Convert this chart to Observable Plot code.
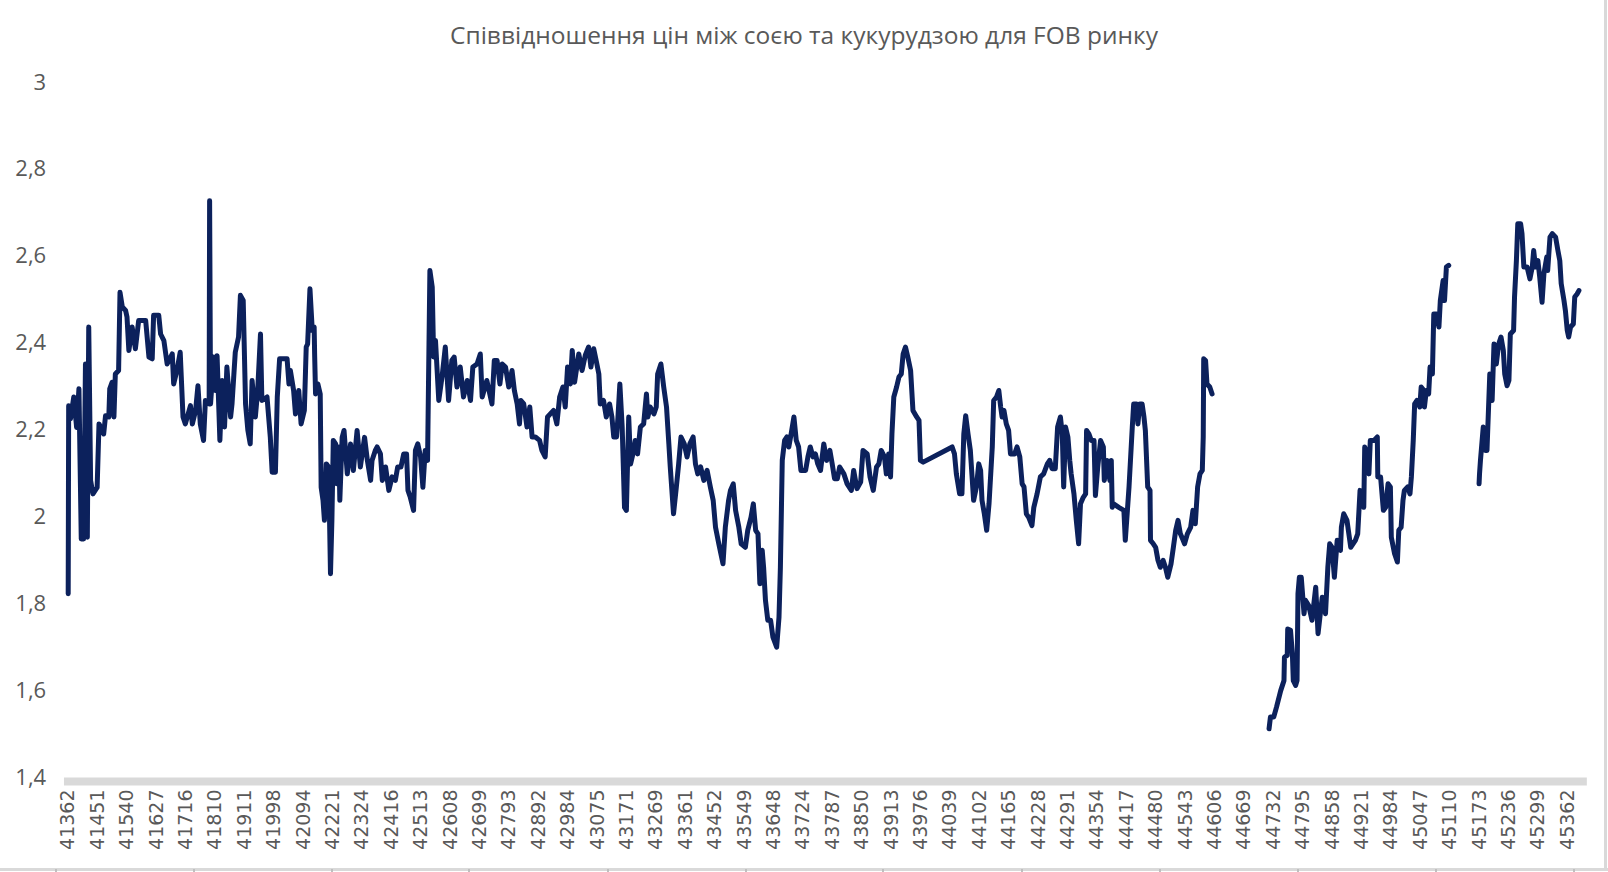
<!DOCTYPE html>
<html>
<head>
<meta charset="utf-8">
<script src="https://cdn.jsdelivr.net/npm/d3@7"></script>
<script src="https://cdn.jsdelivr.net/npm/@observablehq/plot@0.6"></script>
<style>
  html, body { margin: 0; padding: 0; background: #fff; }
  #wrap { position: relative; width: 1608px; height: 872px; overflow: hidden; background: #fff; }
  #title { position: absolute; left: 0; top: 19px; width: 1608px; text-align: center;
           font-family: "Open Sans", sans-serif; font-size: 24.5px; color: #595959; line-height: 32px; }
  #chart { position: absolute; left: 0; top: 60px; }
  #chart g[aria-label="y-axis tick label"] { font-family: "Open Sans", sans-serif; font-size: 22px; fill: #595959; }
  #chart g[aria-label="x-axis tick label"] { font-family: "DejaVu Sans", sans-serif; font-size: 19px; fill: #595959; }
  #frameBottom { position: absolute; left: 0; top: 868px; width: 1608px; height: 3px; background: #d9d9d9; }
  #frameRight { position: absolute; left: 1604px; top: 0; width: 3px; height: 871px; background: #d9d9d9; }
  .ftick { position: absolute; top: 869px; width: 2px; height: 3px; background: #bfbfbf; }
</style>
</head>
<body>
<div id="wrap">
  <div id="title">Співвідношення цін між соєю та кукурудзою для FOB ринку</div>
  <div id="chart"></div>
  <div id="frameBottom"></div>
  <div id="frameRight"></div>
</div>
<script>
// Category labels (Excel date serials), one label every 63 categories
const xLabels = [41362,41451,41540,41627,41716,41810,41911,41998,42094,42221,42324,42416,42513,42608,42699,42793,42892,42984,43075,43171,43269,43361,43452,43549,43648,43724,
  43787,43850,43913,43976,44039,44102,44165,44228,44291,44354,44417,44480,44543,44606,44669,44732,44795,44858,44921,44984,45047,45110,45173,45236,45299,45362];
const tickStep = 63;
const yTicks = [1.4, 1.6, 1.8, 2, 2.2, 2.4, 2.6, 2.8, 3];

// [category index, soy/corn price ratio]
const segment1 = [[0,1.823],[1,2.256],[5,2.226],[12,2.276],[18,2.206],[23,2.295],[28,1.949],[33,1.949],[37,2.352],[41,1.953],[44,2.437],[48,2.084],[53,2.053],[62,2.068],[66,2.214],[76,2.191],[80,2.233],[87,2.230],[89,2.295],[94,2.310],[98,2.230],[101,2.329],[108,2.337],[111,2.517],[116,2.483],[123,2.475],[126,2.460],[130,2.383],[137,2.437],[144,2.387],[151,2.452],[166,2.452],[173,2.368],[180,2.364],[183,2.464],[194,2.464],[198,2.421],[205,2.406],[212,2.352],[223,2.375],[226,2.306],[233,2.337],[240,2.379],[246,2.230],[251,2.214],[262,2.256],[266,2.214],[273,2.245],[278,2.302],[283,2.214],[290,2.176],[294,2.268],[302,2.260],[303,2.728],[305,2.260],[312,2.368],[315,2.291],[319,2.371],[325,2.176],[330,2.314],[335,2.207],[340,2.345],[348,2.230],[351,2.260],[358,2.379],[365,2.414],[369,2.510],[375,2.498],[380,2.260],[385,2.199],[390,2.168],[394,2.314],[401,2.230],[406,2.291],[412,2.421],[415,2.268],[426,2.276],[433,2.184],[437,2.103],[444,2.103],[448,2.276],[453,2.364],[469,2.364],[473,2.306],[476,2.337],[483,2.291],[487,2.237],[494,2.291],[499,2.214],[506,2.245],[510,2.391],[513,2.398],[518,2.525],[523,2.429],[527,2.437],[528,2.375],[530,2.283],[535,2.306],[540,2.283],[542,2.068],[546,2.038],[549,1.992],[553,2.122],[558,2.115],[562,1.869],[565,1.992],[568,2.176],[573,2.168],[576,2.076],[580,2.161],[582,2.038],[587,2.183],[591,2.199],[598,2.099],[605,2.168],[611,2.107],[619,2.199],[626,2.115],[635,2.183],[641,2.130],[648,2.084],[651,2.130],[658,2.153],[662,2.161],[669,2.145],[673,2.084],[680,2.115],[687,2.061],[694,2.092],[701,2.084],[706,2.115],[713,2.115],[719,2.145],[725,2.145],[728,2.061],[733,2.045],[740,2.015],[744,2.153],[749,2.168],[755,2.138],[760,2.068],[765,2.153],[770,2.130],[775,2.567],[780,2.529],[783,2.368],[787,2.406],[794,2.268],[801,2.322],[808,2.391],[815,2.268],[822,2.360],[827,2.368],[833,2.299],[840,2.345],[847,2.276],[855,2.314],[862,2.268],[867,2.345],[876,2.352],[883,2.375],[887,2.276],[897,2.314],[908,2.260],[913,2.360],[919,2.360],[925,2.306],[930,2.352],[937,2.345],[944,2.299],[951,2.337],[956,2.291],[962,2.260],[967,2.214],[970,2.268],[976,2.260],[983,2.207],[989,2.253],[994,2.184],[1001,2.184],[1010,2.176],[1015,2.153],[1022,2.138],[1027,2.230],[1033,2.237],[1040,2.245],[1047,2.214],[1053,2.276],[1060,2.299],[1065,2.253],[1070,2.345],[1076,2.306],[1080,2.383],[1085,2.310],[1094,2.375],[1101,2.337],[1108,2.372],[1115,2.391],[1120,2.345],[1126,2.387],[1132,2.356],[1137,2.329],[1140,2.260],[1147,2.268],[1153,2.230],[1160,2.260],[1165,2.230],[1169,2.184],[1175,2.184],[1178,2.230],[1182,2.306],[1187,2.207],[1192,2.022],[1196,2.015],[1201,2.230],[1205,2.122],[1210,2.145],[1215,2.176],[1220,2.145],[1226,2.207],[1233,2.214],[1239,2.283],[1242,2.230],[1247,2.253],[1255,2.237],[1260,2.253],[1263,2.329],[1270,2.352],[1276,2.299],[1282,2.253],[1287,2.168],[1290,2.115],[1297,2.007],[1303,2.068],[1308,2.122],[1313,2.184],[1320,2.168],[1326,2.138],[1332,2.168],[1339,2.184],[1344,2.122],[1349,2.099],[1355,2.115],[1362,2.084],[1369,2.107],[1376,2.068],[1382,2.038],[1387,1.976],[1394,1.938],[1403,1.892],[1408,1.976],[1415,2.038],[1419,2.061],[1425,2.076],[1430,2.015],[1437,1.976],[1442,1.938],[1451,1.930],[1456,1.969],[1463,1.999],[1468,2.030],[1473,1.969],[1478,1.961],[1482,1.846],[1487,1.923],[1490,1.884],[1494,1.808],[1499,1.762],[1505,1.762],[1510,1.723],[1518,1.700],[1523,1.769],[1526,1.884],[1530,2.130],[1535,2.176],[1540,2.184],[1544,2.161],[1549,2.191],[1555,2.230],[1560,2.176],[1565,2.161],[1570,2.107],[1580,2.107],[1585,2.138],[1590,2.161],[1596,2.138],[1601,2.145],[1606,2.122],[1612,2.107],[1619,2.168],[1625,2.130],[1632,2.153],[1637,2.122],[1642,2.088],[1648,2.088],[1653,2.115],[1662,2.099],[1669,2.076],[1678,2.061],[1683,2.107],[1690,2.065],[1698,2.080],[1703,2.153],[1712,2.145],[1718,2.092],[1725,2.061],[1732,2.115],[1737,2.122],[1742,2.153],[1749,2.138],[1753,2.099],[1758,2.145],[1762,2.092],[1765,2.191],[1769,2.276],[1775,2.299],[1780,2.322],[1785,2.329],[1789,2.375],[1794,2.391],[1799,2.368],[1805,2.337],[1810,2.245],[1818,2.230],[1823,2.222],[1826,2.130],[1832,2.126],[1894,2.161],[1899,2.145],[1903,2.099],[1910,2.053],[1915,2.053],[1919,2.191],[1923,2.233],[1928,2.191],[1933,2.153],[1940,2.038],[1946,2.069],[1951,2.122],[1955,2.107],[1958,2.038],[1963,2.007],[1968,1.969],[1973,2.030],[1980,2.161],[1983,2.268],[1989,2.276],[1994,2.291],[1998,2.253],[2001,2.230],[2005,2.245],[2010,2.214],[2015,2.199],[2019,2.145],[2028,2.145],[2033,2.161],[2039,2.138],[2044,2.076],[2048,2.069],[2053,2.007],[2058,1.999],[2065,1.980],[2069,2.022],[2076,2.053],[2083,2.092],[2090,2.099],[2098,2.122],[2103,2.130],[2108,2.111],[2115,2.111],[2120,2.207],[2126,2.230],[2130,2.191],[2133,2.069],[2137,2.207],[2142,2.184],[2146,2.130],[2149,2.099],[2155,2.053],[2160,1.992],[2165,1.938],[2169,2.030],[2175,2.045],[2180,2.053],[2182,2.199],[2187,2.191],[2192,2.176],[2198,2.176],[2201,2.049],[2206,2.115],[2212,2.176],[2218,2.161],[2220,2.084],[2226,2.130],[2232,2.084],[2235,2.130],[2237,2.022],[2240,2.030],[2251,2.022],[2262,2.015],[2265,1.946],[2269,2.007],[2273,2.069],[2280,2.207],[2283,2.260],[2289,2.260],[2292,2.214],[2296,2.260],[2301,2.260],[2305,2.230],[2308,2.199],[2313,2.069],[2318,2.061],[2319,1.946],[2325,1.938],[2330,1.930],[2335,1.900],[2340,1.884],[2346,1.900],[2351,1.884],[2356,1.861],[2363,1.892],[2368,1.930],[2373,1.969],[2378,1.992],[2383,1.961],[2389,1.946],[2392,1.938],[2398,1.961],[2405,1.976],[2410,2.015],[2415,1.984],[2420,2.069],[2425,2.099],[2430,2.107],[2432,2.184],[2433,2.364],[2437,2.360],[2440,2.306],[2446,2.299],[2451,2.283]];

const segment2 = [[2573,1.512],[2576,1.539],[2583,1.539],[2589,1.562],[2598,1.600],[2605,1.623],[2606,1.677],[2612,1.681],[2613,1.742],[2619,1.739],[2623,1.685],[2625,1.623],[2630,1.612],[2633,1.623],[2635,1.823],[2638,1.861],[2642,1.861],[2648,1.777],[2651,1.808],[2658,1.796],[2665,1.762],[2673,1.838],[2678,1.731],[2682,1.769],[2687,1.815],[2694,1.777],[2699,1.884],[2703,1.938],[2708,1.930],[2713,1.861],[2719,1.946],[2726,1.923],[2728,1.976],[2733,2.007],[2740,1.992],[2748,1.930],[2758,1.946],[2763,1.961],[2768,2.061],[2776,2.022],[2778,2.161],[2783,2.145],[2787,2.099],[2790,2.176],[2798,2.176],[2805,2.184],[2806,2.092],[2812,2.092],[2818,2.015],[2823,2.022],[2828,2.076],[2833,2.069],[2835,1.953],[2842,1.915],[2848,1.896],[2851,1.969],[2856,1.976],[2860,2.038],[2863,2.061],[2870,2.069],[2875,2.053],[2878,2.092],[2882,2.176],[2885,2.260],[2890,2.268],[2896,2.253],[2899,2.299],[2905,2.291],[2906,2.253],[2910,2.291],[2915,2.283],[2918,2.345],[2923,2.329],[2926,2.467],[2932,2.467],[2937,2.437],[2940,2.498],[2946,2.544],[2949,2.498],[2953,2.575],[2958,2.579]];

const segment3 = [[3023,2.076],[3024,2.099],[3026,2.130],[3032,2.207],[3037,2.153],[3040,2.153],[3046,2.329],[3051,2.268],[3055,2.398],[3060,2.352],[3065,2.398],[3070,2.414],[3075,2.383],[3078,2.329],[3083,2.302],[3087,2.314],[3090,2.421],[3097,2.429],[3099,2.506],[3103,2.590],[3106,2.675],[3112,2.675],[3115,2.652],[3119,2.575],[3126,2.575],[3132,2.548],[3137,2.575],[3140,2.613],[3144,2.575],[3149,2.590],[3153,2.552],[3158,2.494],[3162,2.560],[3168,2.598],[3170,2.567],[3175,2.644],[3180,2.652],[3187,2.644],[3192,2.613],[3196,2.590],[3199,2.537],[3205,2.498],[3208,2.475],[3212,2.429],[3215,2.414],[3219,2.437],[3225,2.444],[3228,2.506],[3233,2.513],[3237,2.521]];

const rows = [segment1, segment2, segment3].flatMap((s, k) => s.map(([i, v]) => ({i, v, seg: k})));

const chart = Plot.plot({
  width: 1608,
  height: 812,
  marginTop: 22,
  marginBottom: 95,
  marginLeft: 67.7,
  marginRight: 23.5,
  style: {background: "#fff", color: "#595959"},
  x: {domain: [0, 3250], label: null},
  y: {domain: [1.4, 3], label: null},
  marks: [
    Plot.ruleY([1.4], {x1: -8, x2: 3255, stroke: "#d9d9d9", strokeWidth: 8, dy: 4}),
    Plot.line(rows, {x: "i", y: "v", z: "seg", stroke: "#0c215c", strokeWidth: 5,
      strokeLinejoin: "round", strokeLinecap: "round"}),
    Plot.axisY({ticks: yTicks, tickSize: 0, tickPadding: 22, label: null,
      tickFormat: d => String(d).replace(".", ",")}),
    Plot.axisX({ticks: xLabels.map((_, k) => k * tickStep), label: null,
      tickFormat: i => String(xLabels[Math.round(i / tickStep)]),
      tickRotate: -90, tickSize: 0, tickPadding: 12})
  ]
});
document.getElementById("chart").appendChild(chart);

// frame ticks along the bottom edge
const wrap = document.getElementById("wrap");
[55, 193, 331, 468, 607, 745, 882, 1021, 1159, 1297, 1435, 1573].forEach(x => {
  const t = document.createElement("div");
  t.className = "ftick";
  t.style.left = x + "px";
  wrap.appendChild(t);
});
</script>
</body>
</html>
